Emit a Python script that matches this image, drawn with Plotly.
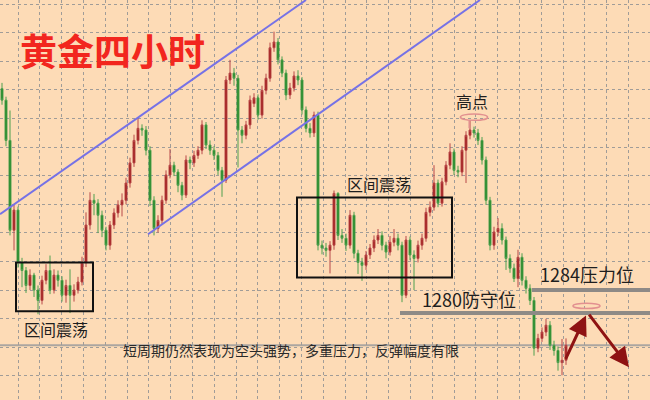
import plotly.graph_objects as go

# ---- data (gold, 4-hour candles) ----
opens = [
    1319.0, 1317.0, 1310.0, 1294.4, 1297.9, 1288.8, 1287.4, 1284.8, 1286.6, 1284.0,
    1282.2, 1285.7, 1287.4, 1284.0, 1286.6, 1285.7, 1283.1, 1284.8, 1283.1, 1284.0,
    1285.4, 1288.8, 1295.3, 1299.6, 1299.1, 1297.0, 1294.4, 1291.8, 1295.3, 1297.4,
    1298.8, 1299.6, 1302.6, 1306.1, 1310.0, 1312.1, 1311.8, 1308.3, 1299.6, 1294.7,
    1296.1, 1299.6, 1304.0, 1305.7, 1304.5, 1302.2, 1300.5, 1306.6, 1306.1, 1307.4,
    1308.3, 1312.7, 1309.2, 1308.3, 1307.4, 1304.8, 1303.1, 1320.5, 1321.7, 1320.8,
    1311.8, 1310.9, 1312.7, 1316.4, 1317.4, 1314.4, 1318.7, 1320.8, 1326.1, 1327.1,
    1324.0, 1321.7, 1317.9, 1319.1, 1321.2, 1320.5, 1315.3, 1312.1, 1311.3, 1314.4,
    1291.8, 1291.3, 1290.9, 1291.8, 1300.8, 1293.5, 1293.0, 1291.8, 1297.0, 1290.4,
    1288.8, 1288.3, 1290.1, 1291.3, 1292.7, 1293.5, 1291.8, 1290.6, 1292.3, 1293.0,
    1291.8, 1283.1, 1292.7, 1290.1, 1289.5, 1291.8, 1293.0, 1297.5, 1298.4, 1302.6,
    1299.1, 1302.8, 1305.7, 1308.0, 1304.8, 1304.5, 1308.3, 1310.9, 1311.8, 1311.3,
    1310.0, 1306.6, 1299.6, 1291.8, 1294.1, 1294.7, 1292.7, 1289.5, 1287.8, 1286.0,
    1289.7, 1285.7, 1284.3, 1282.2, 1273.9, 1275.6, 1276.7, 1277.9, 1274.4, 1273.5,
    1271.4, 1271.8,
]
highs = [
    1320.0, 1317.6, 1315.2, 1298.8, 1298.5, 1289.6, 1288.0, 1287.6, 1287.0, 1284.8,
    1286.5, 1288.5, 1290.0, 1287.6, 1287.4, 1286.4, 1285.8, 1287.6, 1285.0, 1286.3,
    1289.8, 1297.5, 1301.0, 1300.7, 1299.8, 1297.8, 1295.0, 1296.0, 1298.2, 1299.6,
    1300.8, 1303.5, 1307.0, 1311.0, 1314.0, 1312.8, 1312.5, 1309.0, 1300.3, 1297.0,
    1300.4, 1304.8, 1308.5, 1306.3, 1305.0, 1302.8, 1307.4, 1307.2, 1308.2, 1309.0,
    1313.5, 1313.2, 1310.0, 1309.0, 1308.0, 1305.4, 1321.2, 1324.0, 1322.6, 1321.4,
    1312.5, 1313.4, 1317.8, 1318.2, 1318.0, 1319.5, 1321.6, 1327.0, 1328.9, 1327.8,
    1324.6, 1322.3, 1320.0, 1322.0, 1322.2, 1321.0, 1315.9, 1313.0, 1315.0, 1315.0,
    1292.6, 1292.2, 1292.5, 1301.3, 1301.0, 1294.6, 1293.8, 1297.9, 1297.6, 1291.0,
    1289.6, 1290.8, 1292.0, 1293.5, 1294.6, 1294.2, 1292.4, 1293.4, 1294.6, 1293.8,
    1292.4, 1293.4, 1293.3, 1290.9, 1292.6, 1293.8, 1298.3, 1299.4, 1305.7, 1303.2,
    1303.5, 1306.4, 1309.5, 1308.6, 1305.6, 1309.0, 1311.6, 1313.5, 1312.4, 1312.0,
    1310.6, 1307.2, 1300.2, 1295.0, 1296.5, 1295.6, 1293.3, 1290.2, 1288.6, 1291.0,
    1290.4, 1286.4, 1285.0, 1282.8, 1276.4, 1277.5, 1279.0, 1278.6, 1275.2, 1274.2,
    1275.5, 1275.6,
]
lows = [
    1316.2, 1309.0, 1293.5, 1290.9, 1287.9, 1284.5, 1283.5, 1284.0, 1282.8, 1279.8,
    1281.5, 1285.0, 1283.3, 1283.4, 1284.6, 1282.0, 1281.8, 1280.0, 1282.0, 1283.4,
    1284.8, 1288.0, 1294.5, 1297.0, 1293.9, 1293.2, 1290.9, 1291.0, 1294.6, 1296.6,
    1296.8, 1298.9, 1301.8, 1305.4, 1309.3, 1310.8, 1307.4, 1298.6, 1293.5, 1294.0,
    1295.5, 1299.0, 1303.4, 1303.8, 1301.0, 1299.6, 1300.0, 1305.0, 1305.4, 1306.8,
    1307.6, 1308.5, 1307.5, 1306.6, 1304.0, 1300.2, 1302.6, 1319.8, 1319.5, 1305.3,
    1309.5, 1310.2, 1312.0, 1315.8, 1313.6, 1313.8, 1318.0, 1320.2, 1325.4, 1323.2,
    1321.0, 1317.0, 1317.2, 1318.5, 1319.6, 1314.5, 1311.4, 1310.5, 1310.6, 1290.9,
    1290.2, 1289.8, 1286.9, 1291.0, 1292.7, 1292.2, 1290.8, 1291.2, 1289.5, 1286.8,
    1285.6, 1287.5, 1289.4, 1290.6, 1292.0, 1290.9, 1289.5, 1290.0, 1291.6, 1290.9,
    1281.9, 1282.6, 1289.2, 1284.0, 1288.8, 1291.0, 1292.4, 1296.8, 1297.8, 1298.4,
    1298.5, 1302.2, 1305.0, 1304.0, 1303.6, 1303.8, 1302.6, 1310.2, 1310.5, 1309.2,
    1305.8, 1298.8, 1290.9, 1291.0, 1293.4, 1291.9, 1287.5, 1287.0, 1285.4, 1284.5,
    1284.8, 1283.4, 1281.4, 1272.6, 1273.2, 1275.0, 1276.0, 1273.6, 1272.6, 1270.0,
    1269.2, 1271.0,
]
closes = [
    1317.0, 1310.0, 1294.4, 1297.9, 1288.8, 1287.4, 1284.8, 1286.6, 1284.0, 1282.2,
    1285.7, 1287.4, 1284.0, 1286.6, 1285.7, 1283.1, 1284.8, 1283.1, 1284.0, 1285.4,
    1288.8, 1295.3, 1299.6, 1299.1, 1297.0, 1294.4, 1291.8, 1295.3, 1297.4, 1298.8,
    1299.6, 1302.6, 1306.1, 1310.0, 1312.1, 1311.8, 1308.3, 1299.6, 1294.7, 1296.1,
    1299.6, 1304.0, 1305.7, 1304.5, 1302.2, 1300.5, 1306.6, 1306.1, 1307.4, 1308.3,
    1312.7, 1309.2, 1308.3, 1307.4, 1304.8, 1303.1, 1320.5, 1321.7, 1320.8, 1311.8,
    1310.9, 1312.7, 1317.0, 1317.4, 1314.4, 1318.7, 1320.8, 1326.1, 1327.1, 1324.0,
    1321.7, 1317.9, 1319.1, 1321.2, 1320.5, 1315.3, 1312.1, 1311.3, 1314.4, 1291.8,
    1291.3, 1290.9, 1291.8, 1300.8, 1293.5, 1293.0, 1291.8, 1297.0, 1290.4, 1288.8,
    1288.3, 1290.1, 1291.3, 1292.7, 1293.5, 1291.8, 1290.6, 1292.3, 1293.0, 1291.8,
    1283.1, 1292.7, 1290.1, 1289.5, 1291.8, 1293.0, 1297.5, 1298.4, 1302.6, 1299.1,
    1302.8, 1305.7, 1308.0, 1304.8, 1304.5, 1308.3, 1310.9, 1311.8, 1311.3, 1310.0,
    1306.6, 1299.6, 1291.8, 1294.1, 1294.7, 1292.7, 1289.5, 1287.8, 1286.0, 1289.7,
    1285.7, 1284.3, 1282.2, 1273.9, 1275.6, 1276.7, 1277.9, 1274.4, 1273.5, 1271.4,
    1271.8, 1274.4,
]

pressure_level = 1284.0
defense_level = 1280.0
current_price = 1274.4

title_text = "黄金四小时"
range_text = "区间震荡"
high_text = "高点"
pressure_text = "1284压力位"
defense_text = "1280防守位"
comment_text = "短周期仍然表现为空头强势，多重压力，反弹幅度有限"

n = len(closes)
if not (len(opens) == len(highs) == len(lows) == n):
    raise ValueError("length mismatch %d %d %d %d" % (len(opens), len(highs), len(lows), n))
bar_index = list(range(n))

BG = "#FDDBB6"
CJK = "Noto Sans CJK SC"

fig = go.Figure()
fig.add_trace(go.Candlestick(
    x=bar_index, open=opens, high=highs, low=lows, close=closes,
    increasing=dict(line=dict(color="#B84848", width=1), fillcolor="#9A1010"),
    decreasing=dict(line=dict(color="#4FA04F", width=1), fillcolor="#17801A"),
    whiskerwidth=0, showlegend=False, hoverinfo="skip",
))

shapes = []
# grey horizontal lines
shapes.append(dict(type="line", xref="paper", x0=0, x1=1, yref="y",
                   y0=current_price, y1=current_price,
                   line=dict(color="#ABA6A0", width=2), layer="below"))
shapes.append(dict(type="line", xref="x", x0=99.5, x1=165, yref="y",
                   y0=defense_level, y1=defense_level,
                   line=dict(color="#8E8A86", width=4)))
shapes.append(dict(type="line", xref="x", x0=132.5, x1=165, yref="y",
                   y0=pressure_level, y1=pressure_level,
                   line=dict(color="#8E8A86", width=4)))
# channel lines
shapes.append(dict(type="line", xref="x", yref="y", x0=-0.5, y0=1297.2, x1=76, y1=1334.4,
                   line=dict(color="#7672E6", width=2)))
shapes.append(dict(type="line", xref="x", yref="y", x0=36.5, y0=1293.7, x1=119.5, y1=1334.4,
                   line=dict(color="#7672E6", width=2)))
# range boxes
shapes.append(dict(type="rect", xref="x", yref="y", x0=3.5, x1=22.75, y0=1280.3, y1=1288.8,
                   line=dict(color="#111111", width=2)))
shapes.append(dict(type="rect", xref="x", yref="y", x0=73.75, x1=112.5, y0=1286.2, y1=1300.1,
                   line=dict(color="#111111", width=2)))
# ellipses
shapes.append(dict(type="circle", xref="x", yref="y", x0=114.6, x1=121.4, y0=1313.5, y1=1314.6,
                   line=dict(color="#E29090", width=1.5)))
shapes.append(dict(type="line", xref="x", yref="y", x0=116.8, x1=116.8, y0=1313.5, y1=1312.1,
                   line=dict(color="#E29090", width=1.5)))
shapes.append(dict(type="circle", xref="x", yref="y", x0=142.75, x1=149.5, y0=1280.8, y1=1281.7,
                   line=dict(color="#E29090", width=1.5)))

ann = []
def txt(s, px, py, size, color="#1E1E1E", bold=False):
    ann.append(dict(text=("<b>%s</b>" % s) if bold else s, xref="paper", yref="paper",
                    x=px / 650, y=1 - py / 400, xanchor="center", yanchor="middle",
                    showarrow=False, font=dict(family=CJK, size=size, color=color)))

txt(title_text, 112, 50, 37, color="#F2261E", bold=True)
txt(range_text, 56, 329, 16)
txt(range_text, 379, 184, 16)
txt(high_text, 472, 101, 16)
txt(pressure_text, 587, 274, 18)
txt(defense_text, 469, 299, 18)
txt(comment_text, 291, 350, 14, color="#2A2A2A")

# arrows
ann.append(dict(x=146, y=1279.6, ax=140.75, ay=1271.8, xref="x", yref="y", axref="x", ayref="y",
                text="", showarrow=True, arrowhead=2, arrowsize=1.3, arrowwidth=3,
                arrowcolor="#8E1212"))
ann.append(dict(x=156.75, y=1270.6, ax=146.5, ay=1280.0, xref="x", yref="y", axref="x", ayref="y",
                text="", showarrow=True, arrowhead=2, arrowsize=1.3, arrowwidth=3,
                arrowcolor="#8E1212"))

fig.update_layout(
    width=650, height=400, margin=dict(l=0, r=0, t=0, b=0),
    paper_bgcolor=BG, plot_bgcolor=BG,
    shapes=shapes, annotations=ann, showlegend=False, hovermode=False,
    xaxis=dict(range=[-0.5, 162], rangeslider=dict(visible=False), showticklabels=False,
               showgrid=True, gridcolor="#A09C98", griddash="dot", gridwidth=1,
               tick0=4, dtick=5.45, zeroline=False, showline=False, ticks=""),
    yaxis=dict(range=[1264.9, 1334.4], showticklabels=False,
               showgrid=True, gridcolor="#A09C98", griddash="dot", gridwidth=1,
               tick0=1333.7, dtick=4.97, zeroline=False, showline=False, ticks=""),
)

fig.write_html("out.html", config={"displayModeBar": False},
               post_script="document.body.style.margin='0px';document.body.style.background='%s';" % BG)
